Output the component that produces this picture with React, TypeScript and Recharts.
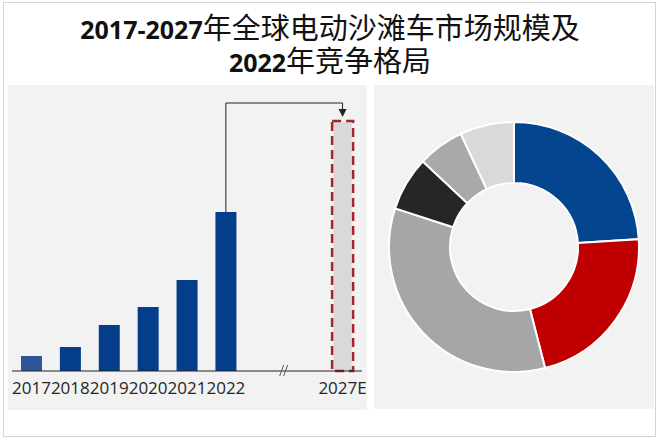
import { Bar, BarChart, Cell, Pie, PieChart, ReferenceDot, ReferenceLine, XAxis, YAxis } from "recharts";

const years = ["2017", "2018", "2019", "2020", "2021", "2022", "gap1", "gap2", "2027E"];
const marketSize = [15, 24, 46, 64, 91, 159, null, null, 249];

const shareNames = ["企业A", "企业B", "其他", "企业C", "企业D", "企业E"];
const shareValues = [24, 22, 34, 7, 6, 7];
const shareColors = ["#03458f", "#c00000", "#a6a6a6", "#262626", "#a9a9a9", "#d9d9d9"];

const barData = years.map((year, i) => ({ year, size: marketSize[i] }));
const pieData = shareNames.map((name, i) => ({ name, value: shareValues[i] }));

const BLUE = "#043e8a";
const panel = { position: "absolute" as const, top: 85, background: "#f2f2f2" };
const titleLine = {
  position: "absolute" as const,
  left: 0,
  width: 660,
  height: 30,
  textAlign: "center" as const,
  lineHeight: "30px",
  fontSize: 29,
  color: "#111",
  fontFamily: '"Noto Sans CJK SC", sans-serif',
};
const digits = { fontFamily: '"Open Sans"', fontWeight: 700, fontSize: 25 };

function BarShape(props: any) {
  const { x, y, width, height, payload, fill } = props;
  if (payload.year === "2027E") {
    return (
      <g>
        <rect x={x + 1.5} y={y} width={width - 3} height={height} fill="#d9d9d9" />
        <rect
          x={x}
          y={y - 1}
          width={width}
          height={height + 1}
          fill="none"
          stroke="#a3262a"
          strokeWidth={2.5}
          strokeDasharray="9 5"
        />
      </g>
    );
  }
  return <rect x={x} y={y} width={width} height={height} fill={fill} />;
}

export default function App() {
  return (
    <div style={{ position: "absolute", left: 0, top: 0, width: 660, height: 443, background: "#fff" }}>
      <div style={{ position: "absolute", left: 3, top: 2, width: 651, height: 433, border: "1px solid #d4d4d4" }} />
      <div style={{ ...titleLine, top: 11 }}>
        <span style={digits}>2017-2027</span>年全球电动沙滩车市场规模及
      </div>
      <div style={{ ...titleLine, top: 44 }}>
        <span style={digits}>2022</span>年竞争格局
      </div>

      <div style={{ ...panel, left: 8, width: 359, height: 325 }}>
        <BarChart width={359} height={325} data={barData} margin={{ top: 10, right: 5, left: 4, bottom: 0 }}>
          <XAxis
            dataKey="year"
            height={39}
            interval={0}
            tickLine={false}
            tickSize={0}
            tickMargin={11}
            axisLine={{ stroke: "#222", strokeWidth: 1 }}
            tickFormatter={(v: string) => (v.startsWith("gap") ? "" : v)}
            tick={{ fill: "#262626", fontSize: 17, fontFamily: '"Open Sans"' }}
          />
          <YAxis hide domain={[0, 276]} />
          <Bar dataKey="size" barSize={21} shape={BarShape} isAnimationActive={false}>
            {barData.map((d) => (
              <Cell key={d.year} fill={d.year === "2017" ? "#2f5597" : BLUE} />
            ))}
          </Bar>
          <ReferenceLine segment={[{ x: "2022", y: 159 }, { x: "2022", y: 268 }]} stroke="#222" strokeWidth={1} />
          <ReferenceLine segment={[{ x: "2022", y: 268 }, { x: "2027E", y: 268 }]} stroke="#222" strokeWidth={1} />
          <ReferenceLine segment={[{ x: "2027E", y: 268 }, { x: "2027E", y: 260 }]} stroke="#222" strokeWidth={1} />
          <ReferenceDot
            x="2027E"
            y={254}
            shape={(p: any) => (
              <polygon points={`${p.cx - 4},${p.cy - 8} ${p.cx + 4},${p.cy - 8} ${p.cx},${p.cy}`} fill="#222" />
            )}
          />
          <ReferenceDot
            x="gap2"
            y={0}
            shape={(p: any) => (
              <g stroke="#555" strokeWidth={1}>
                <line x1={p.cx - 24} y1={p.cy + 5} x2={p.cx - 20} y2={p.cy - 6} />
                <line x1={p.cx - 20} y1={p.cy + 5} x2={p.cx - 16} y2={p.cy - 6} />
              </g>
            )}
          />
        </BarChart>
      </div>

      <div style={{ ...panel, left: 374, width: 280, height: 324 }}>
        <PieChart width={280} height={324} margin={{ top: 0, right: 0, bottom: 0, left: 0 }}>
          <Pie
            data={pieData}
            dataKey="value"
            nameKey="name"
            cx={140}
            cy={162}
            innerRadius={64}
            outerRadius={125}
            startAngle={90}
            endAngle={-270}
            stroke="#fff"
            strokeWidth={2}
            isAnimationActive={false}
          >
            {pieData.map((d, i) => (
              <Cell key={d.name} fill={shareColors[i]} />
            ))}
          </Pie>
        </PieChart>
      </div>
    </div>
  );
}
